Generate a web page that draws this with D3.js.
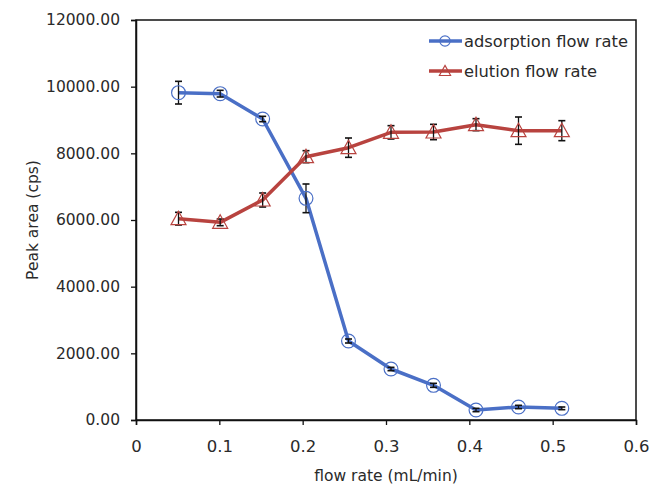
<!DOCTYPE html>
<html>
<head>
<meta charset="utf-8">
<script src="https://cdn.jsdelivr.net/npm/d3@7/dist/d3.min.js"></script>
<style>
  html, body { margin: 0; padding: 0; background: #fff; }
  svg text { font-family: "DejaVu Sans", sans-serif; fill: #2a2a2a; }
</style>
</head>
<body>
<svg id="chart" width="652" height="486"></svg>
<script>
// Flow rate (mL/min) for each measurement
const flowRate = [0.051, 0.101, 0.152, 0.204, 0.255, 0.306, 0.357, 0.408, 0.459, 0.511];

// Peak area (cps) with standard deviation, adsorption flow series
const adsorption    = [9820, 9790, 9030, 6650, 2370, 1530, 1040, 300, 390, 350];
const adsorptionErr = [340, 100, 80, 430, 60, 50, 60, 50, 50, 40];

// Peak area (cps) with standard deviation, elution flow series
const elution    = [6040, 5930, 6600, 7900, 8170, 8630, 8640, 8860, 8680, 8680];
const elutionErr = [190, 100, 210, 180, 290, 200, 230, 180, 410, 300];

const xTicks = [0, 0.1, 0.2, 0.3, 0.4, 0.5, 0.6];
const yTicks = [0, 2000, 4000, 6000, 8000, 10000, 12000];

const seriesNames = ["adsorption flow rate", "elution flow rate"];

const blue = "#4a6fc6";
const red = "#b8433f";

const margin = { left: 136, top: 20, right: 16, bottom: 66 };
const W = 652, H = 486;
const svg = d3.select("#chart");

const x = d3.scaleLinear().domain([0, 0.6]).range([margin.left, W - margin.right]);
const y = d3.scaleLinear().domain([0, 12000]).range([H - margin.bottom, margin.top]);

// plot frame
svg.append("rect")
  .attr("x", x(0)).attr("y", y(12000))
  .attr("width", x(0.6) - x(0)).attr("height", y(0) - y(12000))
  .attr("fill", "none").attr("stroke", "#111").attr("stroke-width", 1.5);

// axes
const xAxis = svg.append("g")
  .attr("transform", `translate(0,${y(0)})`)
  .call(d3.axisBottom(x).tickValues(xTicks).tickSize(5).tickPadding(15)
    .tickFormat(d => d === 0 ? "0" : d3.format(".1f")(d)));
const yAxis = svg.append("g")
  .attr("transform", `translate(${x(0)},0)`)
  .call(d3.axisLeft(y).tickValues(yTicks).tickSize(5).tickPadding(11)
    .tickFormat(d3.format(".2f")));
[xAxis, yAxis].forEach(g => {
  g.select(".domain").attr("stroke", "#111").attr("stroke-width", 1.5);
  g.selectAll(".tick line").attr("stroke", "#111").attr("stroke-width", 1.3);
  g.selectAll(".tick text").attr("font-size", 15.5).attr("fill", "#2a2a2a")
    .attr("font-family", "DejaVu Sans, sans-serif");
});
xAxis.selectAll(".tick text").attr("font-size", 16.5);

// axis titles
svg.append("text")
  .attr("x", x(0.3)).attr("y", 481)
  .attr("text-anchor", "middle").attr("font-size", 15.5)
  .text("flow rate (mL/min)");
svg.append("text")
  .attr("transform", `translate(38,${y(6000)}) rotate(-90)`)
  .attr("text-anchor", "middle").attr("font-size", 15.5)
  .text("Peak area (cps)");

const line = d3.line().x(d => x(d[0])).y(d => y(d[1]));

function drawSeries(vals, errs, color, marker) {
  const pts = flowRate.map((f, i) => [f, vals[i], errs[i]]);
  const g = svg.append("g");
  g.append("path").datum(pts).attr("d", line)
    .attr("fill", "none").attr("stroke", color).attr("stroke-width", 3.5)
    .attr("stroke-linejoin", "round");
  // error bars
  const eb = g.selectAll(".err").data(pts).join("g").attr("class", "err");
  eb.append("line")
    .attr("x1", d => x(d[0])).attr("x2", d => x(d[0]))
    .attr("y1", d => y(d[1] + d[2])).attr("y2", d => y(d[1] - d[2]))
    .attr("stroke", "#111").attr("stroke-width", 1.3);
  [1, -1].forEach(s => {
    eb.append("line")
      .attr("x1", d => x(d[0]) - 3.5).attr("x2", d => x(d[0]) + 3.5)
      .attr("y1", d => y(d[1] + s * d[2])).attr("y2", d => y(d[1] + s * d[2]))
      .attr("stroke", "#111").attr("stroke-width", 1.6);
  });
  // markers
  g.selectAll(".mk").data(pts).join("path").attr("class", "mk")
    .attr("transform", d => `translate(${x(d[0])},${y(d[1])})`)
    .attr("d", marker)
    .attr("fill", "none").attr("stroke", color).attr("stroke-width", 1.2);
}

const circleMarker = d3.symbol(d3.symbolCircle, 150)();
const triMarker = "M0,-7.5L7.5,6L-7.5,6Z";

drawSeries(adsorption, adsorptionErr, blue, circleMarker);
drawSeries(elution, elutionErr, red, triMarker);

// legend
const legend = svg.append("g").attr("transform", "translate(429,41)");
const markers = [circleMarker, triMarker];
const colors = [blue, red];
seriesNames.forEach((name, i) => {
  const row = legend.append("g").attr("transform", `translate(0,${i * 30})`);
  row.append("line").attr("x1", 0).attr("x2", 33).attr("y1", 0).attr("y2", 0)
    .attr("stroke", colors[i]).attr("stroke-width", 3.5);
  row.append("path").attr("d", markers[i]).attr("transform", "translate(16,0) scale(0.75)")
    .attr("fill", "none").attr("stroke", colors[i]).attr("stroke-width", 1.5);
  row.append("text").attr("x", 35).attr("y", 0).attr("dy", "0.35em")
    .attr("font-size", 16.3).text(name);
});
</script>
</body>
</html>
